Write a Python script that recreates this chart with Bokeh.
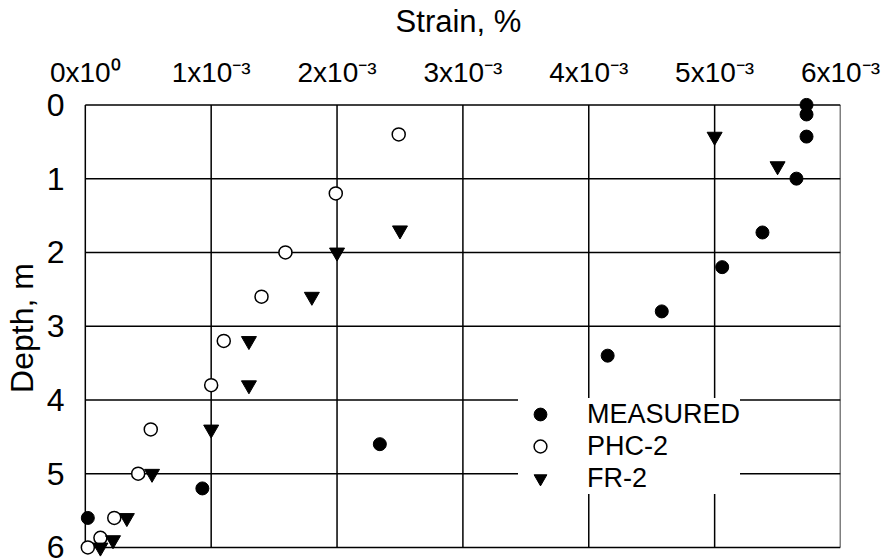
from bokeh.plotting import figure
from bokeh.models import Range1d, FixedTicker, Legend, LegendItem
from bokeh.embed import file_html
from bokeh.resources import INLINE

# Strain axis ticks (shown on top) and depth ticks
strain_ticks = [0.0, 1e-3, 2e-3, 3e-3, 4e-3, 5e-3, 6e-3]
strain_tick_labels = ["0x10\u2070", "1x10\u207b\u00b3", "2x10\u207b\u00b3", "3x10\u207b\u00b3",
                      "4x10\u207b\u00b3", "5x10\u207b\u00b3", "6x10\u207b\u00b3"]
depth_ticks = [0, 1, 2, 3, 4, 5, 6]

# Measured profile
measured_strain = [5.73e-3, 5.73e-3, 5.73e-3, 5.65e-3, 5.38e-3, 5.06e-3,
                   4.58e-3, 4.15e-3, 2.34e-3, 0.93e-3, 0.02e-3]
measured_depth = [0.0, 0.13, 0.43, 1.0, 1.73, 2.2, 2.8, 3.4, 4.6, 5.2, 5.6]

# PHC-2 prediction
phc_strain = [2.49e-3, 1.99e-3, 1.59e-3, 1.40e-3, 1.10e-3, 1.0e-3,
              0.52e-3, 0.42e-3, 0.23e-3, 0.12e-3, 0.02e-3]
phc_depth = [0.4, 1.2, 2.0, 2.6, 3.2, 3.8, 4.4, 5.0, 5.6, 5.87, 6.0]

# FR-2 prediction
fr_strain = [5.0e-3, 5.5e-3, 2.5e-3, 2.0e-3, 1.8e-3, 1.3e-3, 1.3e-3,
             1.0e-3, 0.53e-3, 0.33e-3, 0.22e-3, 0.12e-3]
fr_depth = [0.43, 0.83, 1.7, 2.0, 2.6, 3.2, 3.8, 4.4, 5.0, 5.6, 5.9, 6.0]

FONT = "Liberation Sans"

# The ranges reach a little past the gridded box so that markers sitting on
# the box edges are drawn whole; the box itself is drawn from the tick lists.
p = figure(width=894, height=558,
           x_range=Range1d(-0.07e-3, 6.0e-3), y_range=Range1d(6.15, -0.1),
           x_axis_location="above",
           output_backend="svg", toolbar_location=None,
           min_border_left=73, min_border_right=54,
           min_border_top=96, min_border_bottom=0)

p.background_fill_color = "white"
p.border_fill_color = "white"
p.outline_line_color = None
p.xgrid.visible = False
p.ygrid.visible = False

# Axes
xa = p.xaxis[0]
xa.ticker = FixedTicker(ticks=strain_ticks)
xa.major_label_overrides = {t: lab for t, lab in zip(strain_ticks, strain_tick_labels)}
xa.axis_label = "Strain, %"
ya = p.yaxis[0]
ya.ticker = FixedTicker(ticks=depth_ticks)
ya.axis_label = "Depth, m"

for ax in (xa, ya):
    ax.axis_line_color = None
    ax.major_tick_line_color = None
    ax.minor_tick_line_color = None
    ax.major_label_text_font = FONT
    ax.major_label_text_color = "black"
    ax.axis_label_text_font = FONT
    ax.axis_label_text_font_style = "normal"
    ax.axis_label_text_color = "black"

xa.major_label_text_font_size = "28px"
xa.major_label_standoff = 4
xa.axis_label_text_font_size = "31px"
xa.axis_label_standoff = 15
ya.major_label_text_font_size = "32px"
ya.major_label_standoff = 6
ya.axis_label_text_font_size = "32px"
ya.axis_label_standoff = 4

# Grid box: vertical lines at each strain tick, horizontal at each depth tick
d_top, d_bot = depth_ticks[0], depth_ticks[-1]
s_left, s_right = strain_ticks[0], strain_ticks[-1]
p.segment(x0=strain_ticks, y0=[d_top] * len(strain_ticks),
          x1=strain_ticks, y1=[d_bot] * len(strain_ticks),
          line_color="black", line_width=1.5)
p.segment(x0=[s_left] * len(depth_ticks), y0=depth_ticks,
          x1=[s_right] * len(depth_ticks), y1=depth_ticks,
          line_color="black", line_width=1.5)

# Data
r_meas = p.scatter(measured_strain, measured_depth, marker="circle", size=13,
                   fill_color="black", line_color="black")
r_phc = p.scatter(phc_strain, phc_depth, marker="circle", size=13,
                  fill_color="white", line_color="black", line_width=1.5)
r_fr = p.scatter(fr_strain, fr_depth, marker="inverted_triangle", size=15,
                 fill_color="black", line_color="black")

legend = Legend(items=[
    LegendItem(label="MEASURED", renderers=[r_meas]),
    LegendItem(label="PHC-2", renderers=[r_phc]),
    LegendItem(label="FR-2", renderers=[r_fr]),
], location=(442, 64))
legend.label_text_font = FONT
legend.label_text_font_size = "27px"
legend.label_text_color = "black"
legend.glyph_width = 44
legend.glyph_height = 32
legend.label_height = 32
legend.label_standoff = 25
legend.spacing = 0
legend.padding = 16
legend.margin = 0
legend.border_line_color = None
legend.background_fill_color = "white"
legend.background_fill_alpha = 1.0
p.add_layout(legend, "center")

open("out.html", "w").write(file_html(p, INLINE))
